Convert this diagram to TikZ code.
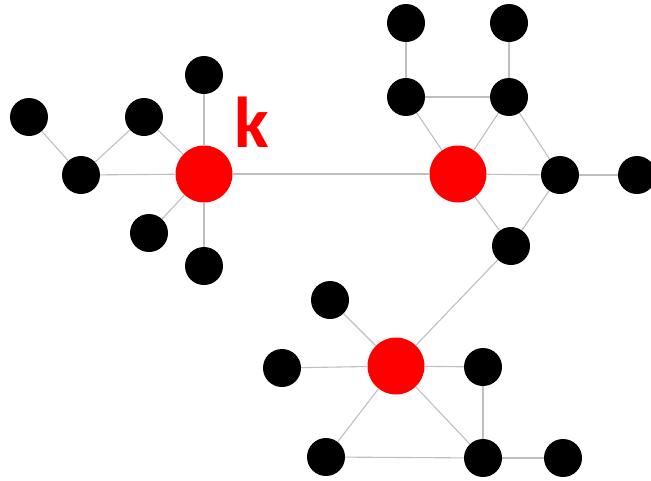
\documentclass[tikz,border=0pt]{standalone}
\usepackage{fontspec}
\newfontfamily\labelfont{Carlito}
\begin{document}
\begin{tikzpicture}[x=1pt,y=-1pt,
  vtx/.style={circle,fill=black,inner sep=0pt,minimum size=38pt},
  hub/.style={circle,fill=red,inner sep=0pt,minimum size=57pt},
  link/.style={draw=black!25,line width=1.1pt}]
\useasboundingbox (0,0) rectangle (651,480);
% left cluster
\node[vtx] (a1) at (29,117) {};
\node[vtx] (a2) at (81,175) {};
\node[vtx] (a3) at (144,117) {};
\node[vtx] (a4) at (204,75) {};
\node[hub] (r1) at (204,174) {};
\node[vtx] (a5) at (149,233) {};
\node[vtx] (a6) at (204,266) {};
\node[text=red,font=\labelfont\bfseries\fontsize{72}{72}\selectfont,inner sep=0pt] (k) at (252,122) {k};
% right cluster
\node[vtx] (b1) at (406,23) {};
\node[vtx] (b2) at (509,23) {};
\node[vtx] (b3) at (406,97) {};
\node[vtx] (b4) at (509,97) {};
\node[hub] (r2) at (458,174) {};
\node[vtx] (b5) at (560,175) {};
\node[vtx] (b6) at (637,175) {};
\node[vtx] (b7) at (511,246) {};
% bottom cluster
\node[hub] (r3) at (396,366) {};
\node[vtx] (c1) at (330,300) {};
\node[vtx] (c2) at (282,368) {};
\node[vtx] (c3) at (483,367) {};
\node[vtx] (c4) at (326,457) {};
\node[vtx] (c5) at (483,458) {};
\node[vtx] (c6) at (563,458) {};
% edges
\foreach \u/\v in {a1/a2,a2/a3,a2/r1,a3/r1,a4/r1,a5/r1,a6/r1,r1/r2,
  b1/b3,b2/b4,b3/b4,b3/r2,b4/r2,b4/b5,r2/b5,b5/b6,r2/b7,b5/b7,b7/r3,
  c1/r3,c2/r3,r3/c3,c3/c5,r3/c4,r3/c5,c4/c5,c5/c6}
  \draw[link] (\u) -- (\v);
\end{tikzpicture}
\end{document}
